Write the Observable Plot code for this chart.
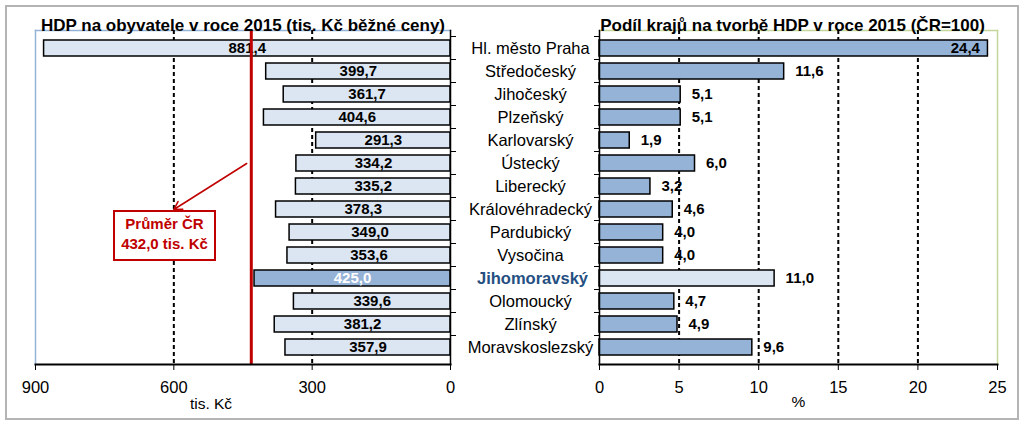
<!DOCTYPE html>
<html><head><meta charset="utf-8">
<script src="https://cdn.jsdelivr.net/npm/d3@7"></script>
<script src="https://cdn.jsdelivr.net/npm/@observablehq/plot@0.6"></script>
<style>
body{margin:0;background:#fff;font-family:"Liberation Sans",Arial,sans-serif}
#wrap{position:relative;width:1024px;height:424px;overflow:hidden;background:#fff}
#wrap svg{position:absolute;top:0}
#border{position:absolute;left:5px;top:5px;width:1010px;height:411px;border:2px solid #b4b4b4}
#note{position:absolute;left:113px;top:210px;width:99px;height:45px;border:2px solid #c00000;background:#fff;
 color:#c00000;font-weight:bold;font-size:15px;line-height:20px;text-align:center;padding-top:2px;box-sizing:content-box}
</style></head><body>
<div id="wrap"><div id="border"></div></div>
<script>
const regions = ["Hl. město Praha","Středočeský","Jihočeský","Plzeňský","Karlovarský","Ústecký","Liberecký","Královéhradecký","Pardubický","Vysočina","Jihomoravský","Olomoucký","Zlínský","Moravskoslezský"];
const hdpPerCapita = [881.4,399.7,361.7,404.6,291.3,334.2,335.2,378.3,349.0,353.6,425.0,339.6,381.2,357.9];
const sharePct = [24.4,11.6,5.1,5.1,1.9,6.0,3.2,4.6,4.0,4.0,11.0,4.7,4.9,9.6];
const highlight = "Jihomoravský";
const czAverage = 432.0;
const leftTicks = [0,300,600,900];
const leftGrid = [300,600];
const rightTicks = [0,5,10,15,20,25];
const rightGrid = [5,10,15,20];
const leftTitle = "HDP na obyvatele v roce 2015 (tis. Kč běžné ceny)";
const rightTitle = "Podíl krajů na tvorbě HDP v roce 2015 (ČR=100)";
const leftUnit = "tis. Kč";
const rightUnit = "%";
const noteLines = ["Průměr ČR", "432,0 tis. Kč"];
const arrowFrom = {x: czAverage + 10, y: "Ústecký"};
const arrowTo = {x: 600, y: "Královéhradecký"};

const LIGHT = "#dce6f2", DARK = "#95b3d7";
const FONT = "'Liberation Sans', Arial, sans-serif";
const fmt = v => v.toFixed(1).replace(".", ",");
const rows = regions.map((r, i) => ({region: r, hdp: hdpPerCapita[i], share: sharePct[i], hl: r === highlight}));
const yScale = {domain: regions, paddingInner: 0.32, paddingOuter: 0.16, axis: null};
const style = {fontFamily: FONT, fontSize: "16.5px", color: "#000", background: "transparent", overflow: "visible"};

const left = Plot.plot({
  width: 460, height: 424, marginLeft: 35, marginRight: 10, marginTop: 30, marginBottom: 60,
  style,
  x: {domain: [0, 900], reverse: true},
  y: yScale,
  marks: [
    Plot.frame({anchor: "top", stroke: "#95b3d7", strokeWidth: 1.5}),
    Plot.frame({anchor: "left", stroke: "#95b3d7", strokeWidth: 1.5}),
    Plot.ruleX(leftGrid, {stroke: "#000", strokeWidth: 2, strokeDasharray: "4,3"}),
    Plot.barX(rows, {y: "region", x: "hdp", fill: d => d.hl ? DARK : LIGHT, stroke: "#000", strokeWidth: 1.5}),
    Plot.text(rows, {y: "region", x: d => d.hdp / 2, text: d => fmt(d.hdp), fill: d => d.hl ? "#fff" : "#000", fontWeight: "bold", fontSize: 15}),
    Plot.ruleX([czAverage], {stroke: "#c00000", strokeWidth: 3}),
    Plot.arrow([0], {x1: () => arrowFrom.x, y1: () => arrowFrom.y, x2: () => arrowTo.x, y2: () => arrowTo.y, stroke: "#c00000", strokeWidth: 1.5, headLength: 9}),
    Plot.axisX({ticks: leftTicks, tickSize: 6, tickPadding: 11, label: null, fontSize: 16.5}),
    Plot.axisY({anchor: "right", tickSize: 5, tickFormat: () => "", dy: -12, label: null}),
    Plot.frame({anchor: "bottom", stroke: "#000", strokeWidth: 2}),
    Plot.frame({anchor: "right", stroke: "#000", strokeWidth: 1.5}),
    Plot.text([leftTitle], {frameAnchor: "top", dy: -12, fontWeight: "bold", fontSize: 17}),
    Plot.text([leftUnit], {frameAnchor: "bottom", dx: -32, dy: 44, fontSize: 15.5})
  ]
});
left.style.left = "0px";

const right = Plot.plot({
  width: 569, height: 424, marginLeft: 144, marginRight: 27, marginTop: 30, marginBottom: 60,
  style,
  x: {domain: [0, 25]},
  y: yScale,
  marks: [
    Plot.frame({anchor: "top", stroke: "#c3d69b", strokeWidth: 1.5}),
    Plot.frame({anchor: "right", stroke: "#c3d69b", strokeWidth: 1.5}),
    Plot.ruleX(rightGrid, {stroke: "#000", strokeWidth: 2, strokeDasharray: "4,3"}),
    Plot.barX(rows, {y: "region", x: "share", fill: d => d.hl ? LIGHT : DARK, stroke: "#000", strokeWidth: 1.5}),
    Plot.text(rows.filter(d => d.share < 20), {y: "region", x: "share", text: d => fmt(d.share), dx: 11, textAnchor: "start", fontWeight: "bold", fontSize: 15}),
    Plot.text(rows.filter(d => d.share >= 20), {y: "region", x: "share", text: d => fmt(d.share), dx: -8, textAnchor: "end", fontWeight: "bold", fontSize: 15}),
    Plot.text(rows.filter(d => !d.hl), {y: "region", text: "region", frameAnchor: "left", dx: -69, textAnchor: "middle", fontSize: 16.5}),
    Plot.text(rows.filter(d => d.hl), {y: "region", text: "region", frameAnchor: "left", dx: -67, textAnchor: "middle", fontSize: 16.5, fontWeight: "bold", fill: "#254f82"}),
    Plot.axisX({ticks: rightTicks, tickSize: 6, tickPadding: 11, label: null, fontSize: 16.5}),
    Plot.axisY({anchor: "left", tickSize: 5, tickFormat: () => "", dy: -12, label: null}),
    Plot.frame({anchor: "bottom", stroke: "#000", strokeWidth: 2}),
    Plot.frame({anchor: "left", stroke: "#000", strokeWidth: 1.5}),
    Plot.text([rightTitle], {frameAnchor: "top", dy: -12, dx: -6, fontWeight: "bold", fontSize: 17}),
    Plot.text([rightUnit], {frameAnchor: "bottom", dy: 42, fontSize: 15.5})
  ]
});
right.style.left = "455px";

const wrap = document.getElementById("wrap");
wrap.appendChild(left);
wrap.appendChild(right);
const note = document.createElement("div");
note.id = "note";
note.innerHTML = noteLines.join("<br>");
wrap.appendChild(note);
</script>
</body></html>
